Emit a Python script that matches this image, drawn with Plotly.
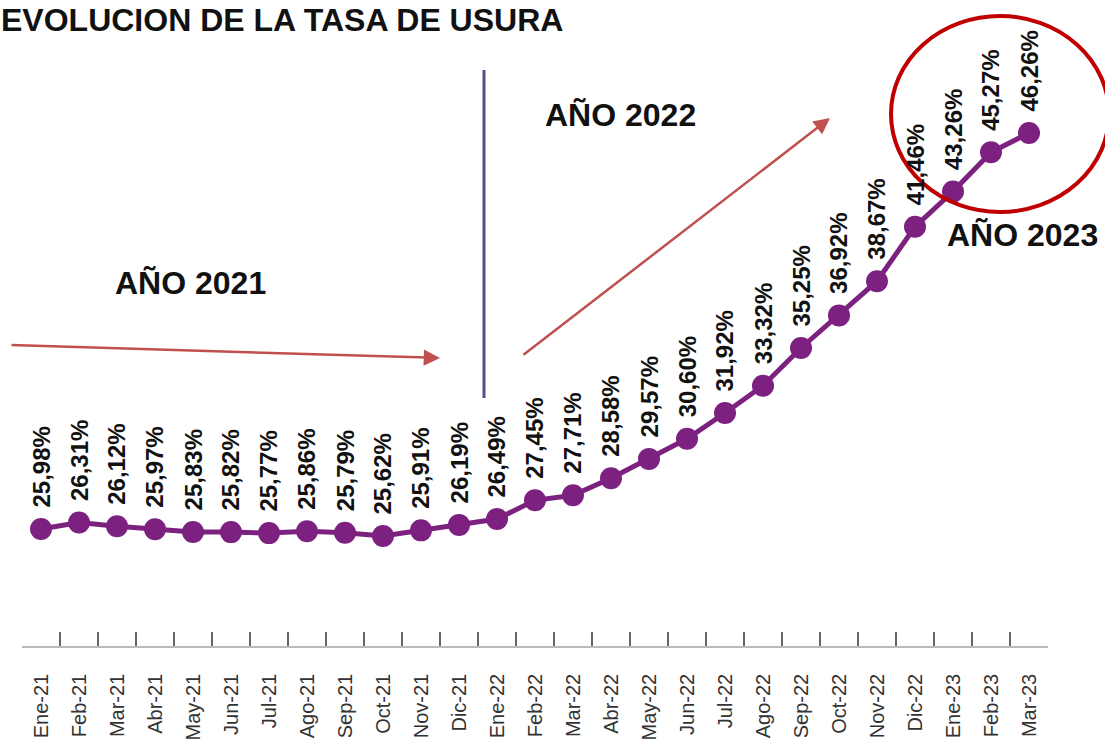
import plotly.graph_objects as go

months = ["Ene-21", "Feb-21", "Mar-21", "Abr-21", "May-21", "Jun-21", "Jul-21", "Ago-21", "Sep-21",
          "Oct-21", "Nov-21", "Dic-21", "Ene-22", "Feb-22", "Mar-22", "Abr-22", "May-22", "Jun-22",
          "Jul-22", "Ago-22", "Sep-22", "Oct-22", "Nov-22", "Dic-22", "Ene-23", "Feb-23", "Mar-23"]
rates = [25.98, 26.31, 26.12, 25.97, 25.83, 25.82, 25.77, 25.86, 25.79, 25.62, 25.91, 26.19,
         26.49, 27.45, 27.71, 28.58, 29.57, 30.60, 31.92, 33.32, 35.25, 36.92, 38.67, 41.46,
         43.26, 45.27, 46.26]
title_text = "EVOLUCION DE LA TASA DE USURA"
year_labels = ["AÑO 2021", "AÑO 2022", "AÑO 2023"]

W, H = 1105, 746
L, R, T, B = 22, 57, 0, 100
PW, PH = W - L - R, H - T - B

def px(x):
    return (x - L) / PW

def py(y):
    return (T + PH - y) / PH

PURPLE = "#7D2181"
RED = "#C0504D"

fig = go.Figure()
fig.add_trace(go.Scatter(
    x=months, y=rates, mode="lines+markers",
    line=dict(color=PURPLE, width=5),
    marker=dict(color=PURPLE, size=22),
    hoverinfo="skip", cliponaxis=False,
))

annotations = []
for m, v in zip(months, rates):
    annotations.append(dict(
        x=m, y=v, xref="x", yref="y",
        text=f"{v:.2f}%".replace(".", ","),
        textangle=-90, showarrow=False,
        xanchor="center", yanchor="bottom", yshift=19,
        font=dict(family="Liberation Sans", size=24, color="#111111", weight="bold"),
    ))

# title
annotations.append(dict(
    x=px(0), y=py(1), xref="paper", yref="paper", text=f"<b>{title_text}</b>",
    showarrow=False, xanchor="left", yanchor="top", borderpad=0,
    font=dict(family="Liberation Sans", size=32, color="#111111"),
))

# year labels
for txt, cx, cy in zip(year_labels, [190, 620, 1022], [283, 115, 235]):
    annotations.append(dict(
        x=px(cx), y=py(cy), xref="paper", yref="paper", text=f"<b>{txt}</b>",
        showarrow=False, xanchor="center", yanchor="middle",
        font=dict(family="Liberation Sans", size=32, color="#111111"),
    ))

# arrows
for (x0, y0, x1, y1) in [(10, 345, 440, 358), (522, 356, 830, 118)]:
    annotations.append(dict(
        x=px(x1), y=py(y1), xref="paper", yref="paper", text="",
        showarrow=True, ax=x0 - x1, ay=y0 - y1, axref="pixel", ayref="pixel",
        arrowhead=2, arrowsize=1.3, arrowwidth=2.5, arrowcolor=RED,
    ))

shapes = [
    dict(type="line", xref="paper", yref="paper", x0=px(484), x1=px(484), y0=py(70), y1=py(398),
         line=dict(color="#5E4A8A", width=3)),
    dict(type="circle", xref="paper", yref="paper", x0=px(891), x1=px(1109), y0=py(212), y1=py(16),
         line=dict(color="#C00000", width=4)),
]

# y mapping: 25.98 at y=529px, 46.26 at y=133px
ppu = (529 - 133) / (46.26 - 25.98)
y_bottom = 25.98 - (T + PH - 529) / ppu
y_top = 25.98 + (529 - T) / ppu

fig.update_layout(
    width=W, height=H,
    margin=dict(l=L, r=R, t=T, b=B),
    paper_bgcolor="white", plot_bgcolor="white",
    showlegend=False,
    annotations=annotations, shapes=shapes,
    xaxis=dict(
        type="category", tickson="boundaries", range=[-0.5, 26.5],
        ticks="inside", ticklen=14, tickwidth=1.5, tickcolor="#666666",
        showline=True, linecolor="#BBBBBB", linewidth=1.5,
        showgrid=False, zeroline=False,
        tickangle=-90, ticklabelstandoff=18,
        tickfont=dict(family="Liberation Sans", size=20, color="#333333"),
    ),
    yaxis=dict(visible=False, range=[y_bottom, y_top]),
)

fig.write_html("out.html", config={"displayModeBar": False},
               post_script="document.body.style.margin='0';")
